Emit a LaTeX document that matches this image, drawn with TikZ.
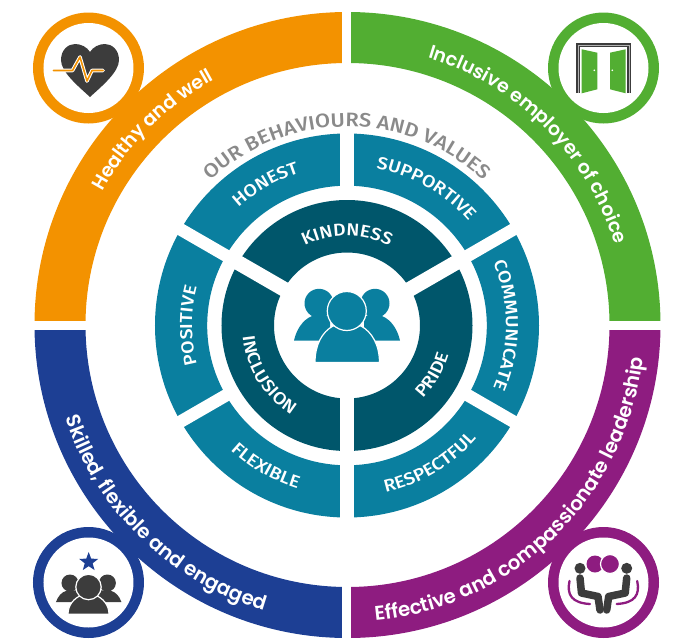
\documentclass[tikz,border=0pt]{standalone}
\usepackage{fontspec}
\usetikzlibrary{decorations.text,shapes.geometric}
\newfontfamily\outerfont[UprightFont=* SemiBold]{Poppins}
\newfontfamily\innerfont[FakeStretch=1.12,UprightFont=* Medium]{Fira Sans}
\definecolor{cOrange}{HTML}{F39200}
\definecolor{cGreen}{HTML}{52AE32}
\definecolor{cBlue}{HTML}{1D3F94}
\definecolor{cPurple}{HTML}{8E1C80}
\definecolor{cTeal}{HTML}{0A7F9F}
\definecolor{cDark}{HTML}{00566B}
\definecolor{cIcon}{HTML}{3C3C3C}
\definecolor{cGrey}{HTML}{8A8A8A}
\newcommand{\arctext}[5]{\path[decorate,decoration={text along path,text={|#1|#5},text align=center}] (#3:#2) arc (#3:#4:#2);}
\newcommand{\outerlabel}{\outerfont\fontsize{19}{19}\selectfont\color{white}}
\newcommand{\outerlabelb}{\outerfont\fontsize{19.8}{19.8}\selectfont\color{white}}
\newcommand{\innerlabel}{\innerfont\fontsize{17.3}{17.3}\selectfont\color{white}}
\newcommand{\greylabel}{\innerfont\fontsize{19.5}{19.5}\selectfont\color{cGrey}}
\tikzset{
  px/.style={shift={(-347.5,325)},yscale=-1},
  halo/.style={draw=white,line width=1.2pt}
}
\begin{document}
\begin{tikzpicture}[x=1pt,y=1pt]
\useasboundingbox (-347.5,-313) rectangle (334.5,325);
% outer band
\fill[cOrange] (180:313) arc (180:90:313) -- (90:262) arc (90:180:262) -- cycle;
\fill[cGreen] (90:313) arc (90:0:313) -- (0:262) arc (0:90:262) -- cycle;
\fill[cPurple] (0:313) arc (0:-90:313) -- (-90:262) arc (-90:0:262) -- cycle;
\fill[cBlue] (-90:313) arc (-90:-180:313) -- (-180:262) arc (-180:-90:262) -- cycle;
\fill[white] (-5.5,-320) rectangle (3.5,330);
\fill[white] (-340,-5) rectangle (330,4);
\begin{scope}[px]
% badges
\fill[cOrange] (88.5,68) circle (55.5); \fill[white] (88.5,68) circle (45);
\fill[cGreen] (603.5,68) circle (55.5); \fill[white] (603.5,68) circle (45);
\fill[cBlue] (88.5,582.5) circle (55.5); \fill[white] (88.5,582.5) circle (45);
\fill[cPurple] (603.5,582.5) circle (55.5); \fill[white] (603.5,582.5) circle (45);
% heart
\fill[cIcon] (90,97) .. controls (78,86) and (61,72) .. (61,60) .. controls (61,50) and (68,44) .. (75,44) .. controls (81,44) and (87,47) .. (90,52) .. controls (93,47) and (99,44) .. (105,44) .. controls (112,44) and (119,50) .. (119,60) .. controls (119,72) and (102,86) .. (90,97) -- cycle;
\draw[white,line width=3.6pt,line join=round,line cap=round] (53.5,70.5) -- (72.5,70.5) -- (80,57) -- (87,81) -- (92,70.5) -- (103,70.5);
\draw[cOrange,line width=1.6pt,line join=round,line cap=round] (53.5,70.5) -- (72.5,70.5) -- (80,57) -- (87,81) -- (92,70.5) -- (103,70.5);
% doors
\draw[cIcon,line width=4.5pt] (578.2,93) -- (578.2,45.2) -- (628.8,45.2) -- (628.8,93);
\draw[gray!60,line width=.5pt] (578.2,93) -- (578.2,45.2) -- (628.8,45.2) -- (628.8,93);
\fill[cGreen] (581.7,49.3) -- (597.3,52.7) -- (597.3,89.3) -- (581.7,93.3) -- cycle;
\fill[cGreen] (610,52.7) -- (625.7,49.3) -- (625.7,93.3) -- (610,89.3) -- cycle;
\fill[white] (594.3,70.3) circle (.9) (612.3,70.3) circle (.9);
% team with star
\node[star,star points=5,star point ratio=2.4,fill=cBlue,inner sep=0pt,minimum size=20pt] (bluestar) at (88.7,562) {};
\fill[cIcon] (56,602) .. controls (58,596) and (62,592) .. (66,591) -- (80,590) -- (80,602) -- cycle;
\fill[cIcon] (121.4,602) .. controls (119.4,596) and (115.4,592) .. (111.4,591) -- (97.4,590) -- (97.4,602) -- cycle;
\fill[cIcon] (70,583) circle (8.5) (107.4,583) circle (8.5);
\filldraw[cIcon,halo,fill=cIcon] (68,614.2) .. controls (68,605) and (74,598) .. (82,595) -- (95,595) .. controls (103,598) and (109,605) .. (109,614.2) -- cycle;
\filldraw[cIcon,halo,fill=cIcon] (88.5,587) circle (12.7);
% meeting
\fill[cPurple] (595,564) circle (8.5);
\filldraw[halo,fill=cPurple] (610,564) circle (9.5);
\fill[cIcon] (580,568.3) circle (5.5) (626.7,568.3) circle (5.5);
\draw[cIcon,line width=7.5pt,line join=round,line cap=round] (580,578) -- (581.5,593) -- (598,596.5) -- (600,610);
\draw[cIcon,line width=7.5pt,line join=round,line cap=round] (626.7,578) -- (625.2,593) -- (608.7,596.5) -- (606.7,610);
\draw[cPurple,line width=2.3pt,line cap=round] (569.5,581) .. controls (566.5,595) and (572,603) .. (590,604);
\draw[cPurple,line width=2.3pt,line cap=round] (637.2,581) .. controls (640.2,595) and (634.7,603) .. (616.7,604);
\end{scope}
% outer labels
\arctext{\outerlabel}{279}{175}{95}{Healthy and well}
\arctext{\outerlabel}{279}{85}{5}{Inclusive employer of choice}
\arctext{\outerlabelb}{297}{185.5}{266.5}{Skilled, flexible and engaged}
\arctext{\outerlabelb}{297}{-90}{-1}{Effective and compassionate leadership}
% inner wheel
\begin{scope}[shift={(-0.5,-0.5)}]
\fill[cTeal,even odd rule] (0,0) circle (192) (0,0) circle (139.8);
\foreach \a/\w in {90/14,30/12.5,-30/12.5,-90/14,210/12.5,150/12.5} \draw[white,line width=\w pt] (\a:130) -- (\a:196);
\fill[cDark,even odd rule] (0,0) circle (125.5) (0,0) circle (73);
\foreach \a/\w in {30/15,150/15,-90/14} \draw[white,line width=\w pt] (\a:70) -- (\a:129);
\arctext{\greylabel}{199}{140}{40}{OUR BEHAVIOURS AND VALUES}
\arctext{\innerlabel}{160}{150}{90}{HONEST}
\arctext{\innerlabel}{160}{90}{30}{SUPPORTIVE}
\arctext{\innerlabel}{159}{30}{-30}{COMMUNICATE}
\arctext{\innerlabel}{155}{210}{150}{POSITIVE}
\arctext{\innerlabel}{170.5}{210}{270}{FLEXIBLE}
\arctext{\innerlabel}{171.5}{-89}{-29}{RESPECTFUL}
\arctext{\innerlabel}{90}{130}{50}{KINDNESS}
\arctext{\innerlabel}{105.5}{-70}{10}{PRIDE}
\arctext{\innerlabel}{105}{172}{252}{INCLUSION}
\end{scope}
\begin{scope}[px]
\fill[cTeal] (294,340.7) .. controls (296,331) and (302,320) .. (312,316) -- (330,316) -- (330,340.7) -- cycle;
\fill[cTeal] (400,340.7) .. controls (398,331) and (392,320) .. (382,316) -- (364,316) -- (364,340.7) -- cycle;
\fill[cTeal] (319,303.3) circle (14.5) (375,303.3) circle (14.5);
\filldraw[halo,fill=cTeal] (315,362.5) .. controls (315,345) and (322,332) .. (333,326) -- (361,326) .. controls (372,332) and (379.5,345) .. (379.5,362.5) -- cycle;
\filldraw[halo,fill=cTeal] (346.8,311) circle (19.5);
\end{scope}
\end{tikzpicture}
\end{document}
